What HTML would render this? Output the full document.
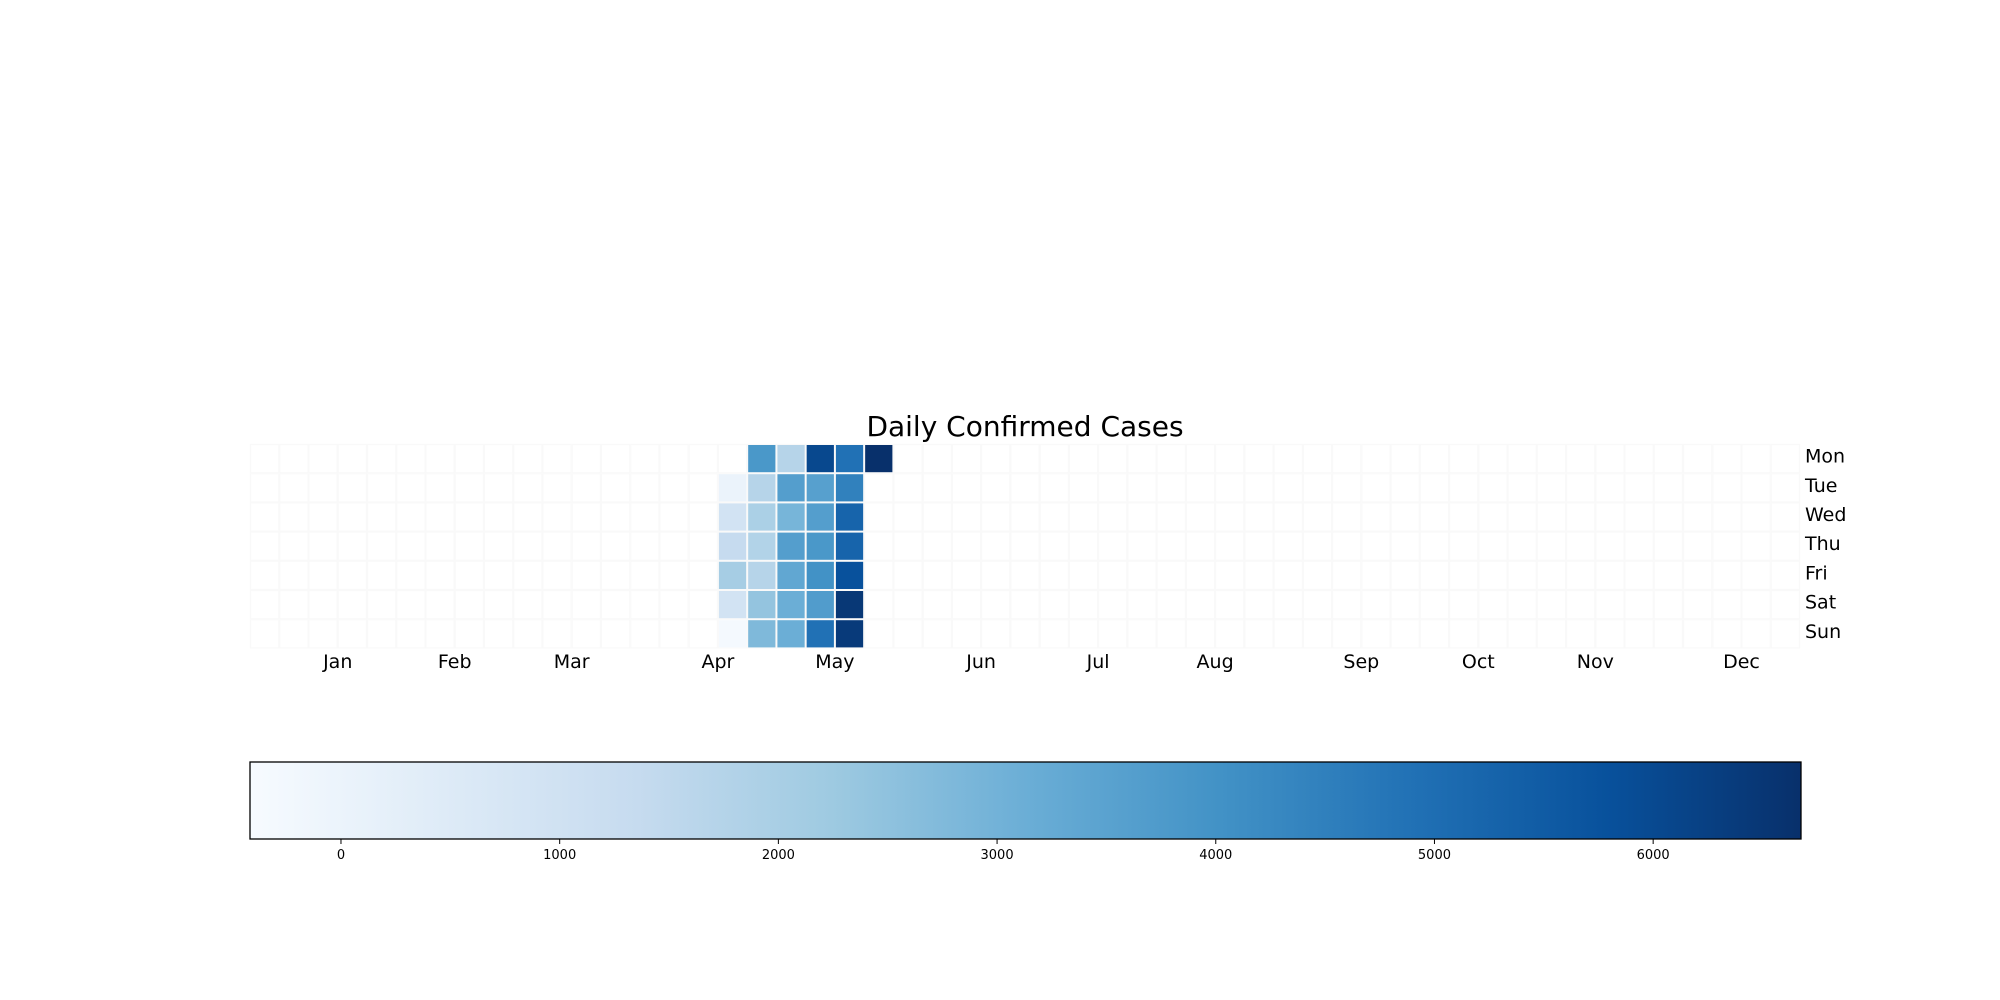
<!DOCTYPE html>
<html><head><meta charset="utf-8"><style>
html,body{margin:0;padding:0;background:#fff;}
svg{display:block;font-family:"DejaVu Sans","Liberation Sans",sans-serif;}
</style></head><body>
<svg id="chart" width="2000" height="1000" viewBox="0 0 2000 1000" xmlns="http://www.w3.org/2000/svg">
<defs><linearGradient id="cbgrad" x1="0" x2="1" y1="0" y2="0"></linearGradient></defs>
<text x="1025" y="436" font-size="28" text-anchor="middle" fill="#000">Daily Confirmed Cases</text>
<g id="grid"></g>
<g id="cells"></g>
<g id="months"></g>
<g id="days"></g>
<g id="cbar"></g>
</svg>
<script>
const dayLabels = ["Mon","Tue","Wed","Thu","Fri","Sat","Sun"];
const monthLabels = ["Jan","Feb","Mar","Apr","May","Jun","Jul","Aug","Sep","Oct","Nov","Dec"];
const monthStartWeeks = [3,7,11,16,20,25,29,33,38,42,46,51];
const cellWeeks = [17,18,19,20,21, 16,17,18,19,20, 16,17,18,19,20, 16,17,18,19,20, 16,17,18,19,20, 16,17,18,19,20, 16,17,18,19,20];
const cellDays  = [0,0,0,0,0, 1,1,1,1,1, 2,2,2,2,2, 3,3,3,3,3, 4,4,4,4,4, 5,5,5,5,5, 6,6,6,6,6];
const cellValues = [3840,1710,6040,4900,6680, 10,1710,3630,3560,4480, 930,1950,2920,3630,5260, 1360,1800,3630,3840,5260, 2070,1710,3340,4020,5790, 930,2420,3130,3700,6470, -300,2780,3130,4900,6400];
const colorbarTicks = [0,1000,2000,3000,4000,5000,6000];
const vmin = -416, vmax = 6676;

const NS = "http://www.w3.org/2000/svg";
const gx0 = 250, gy0 = 444, cw = 1550/53, ch = 29.2, nWeeks = 53;
const cbX0 = 250, cbX1 = 1801, cbY0 = 762, cbY1 = 839;
const xWeek = w => gx0 + w * cw;
const yDay = d => gy0 + d * ch;
const xVal = v => cbX0 + (v - vmin) / (vmax - vmin) * (cbX1 - cbX0);
const stops = ["#f7fbff","#deebf7","#c6dbef","#9ecae1","#6baed6","#4292c6","#2171b5","#08519c","#08306b"];
function hex(c){return [1,3,5].map(i=>parseInt(c.substr(i,2),16));}
function blues(t){t=Math.max(0,Math.min(1,t));const p=t*8;const i=Math.min(7,Math.floor(p));const f=p-i;const a=hex(stops[i]),b=hex(stops[i+1]);return "rgb("+a.map((x,k)=>Math.round(x+(b[k]-x)*f)).join(",")+")";}
function mk(tag, attrs, parent){const e=document.createElementNS(NS,tag);for(const k in attrs)e.setAttribute(k,attrs[k]);parent.appendChild(e);return e;}

const grid = document.getElementById("grid");
for (let w=0; w<nWeeks; w++) for (let d=0; d<7; d++) {
  const r = mk("rect",{x:xWeek(w)+0.5,y:yDay(d)+0.5,width:cw-1,height:ch-1,fill:"#fff",stroke:"#f9f9f9","stroke-width":1.2},grid);
  
  
}
const cells = document.getElementById("cells");
for (let i=0;i<cellValues.length;i++){
  const r = mk("rect",{x:xWeek(cellWeeks[i])+1,y:yDay(cellDays[i])+1,width:cw-2,height:ch-2,fill:blues((cellValues[i]-vmin)/(vmax-vmin))},cells);
  
  
}
const months = document.getElementById("months");
monthLabels.forEach((m,i)=>{
  const t = mk("text",{x:xWeek(monthStartWeeks[i]),y:668,"font-size":19,"text-anchor":"middle",fill:"#000"},months);
  t.textContent = m;
  
  
});
const days = document.getElementById("days");
dayLabels.forEach((d,i)=>{
  const t = mk("text",{x:1805,y:yDay(i)+ch/2+4,"font-size":19,fill:"#000"},days);
  t.textContent = d;
  
  
});
const grad = document.getElementById("cbgrad");
for (let k=0;k<=8;k++){ mk("stop",{offset:k/8,"stop-color":stops[k]},grad); }
const cbar = document.getElementById("cbar");
const cb = mk("rect",{x:cbX0,y:cbY0,width:cbX1-cbX0,height:cbY1-cbY0,fill:"url(#cbgrad)",stroke:"#000","stroke-width":1.3},cbar);


colorbarTicks.forEach(v=>{
  const l = mk("line",{x1:xVal(v),x2:xVal(v),y1:cbY1,y2:cbY1+5,stroke:"#000","stroke-width":1},cbar);
  
  
  const t = mk("text",{x:xVal(v),y:859,"font-size":13,"text-anchor":"middle",fill:"#000"},cbar);
  t.textContent = String(v);
  
  
});
</script>
</body></html>
